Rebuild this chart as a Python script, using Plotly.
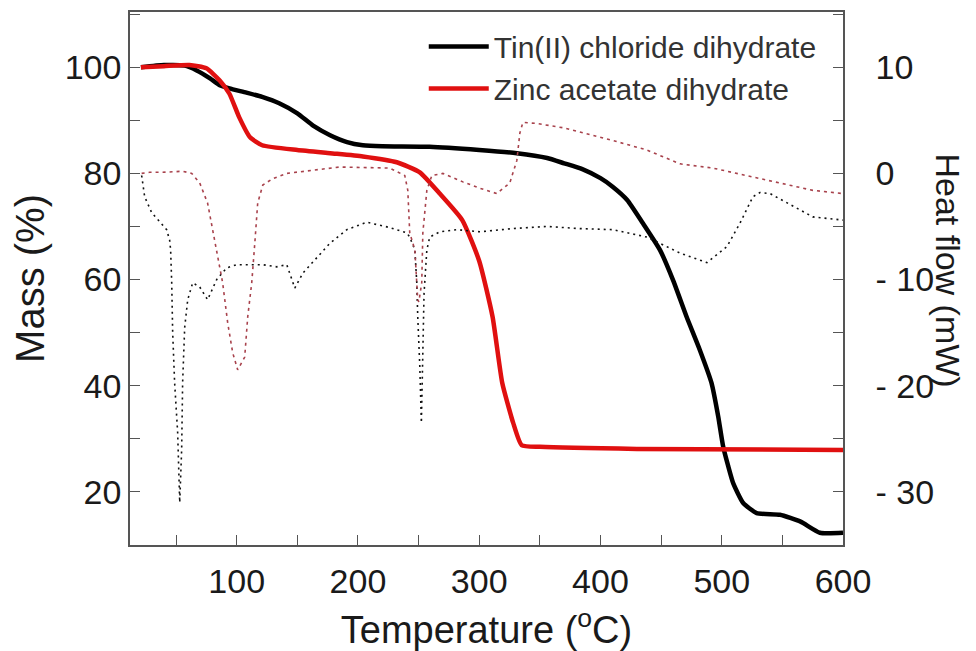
import plotly.graph_objects as go

# --- TGA: Tin(II) chloride dihydrate (mass %) ---
T_tin = [21, 40, 57, 67, 78, 86, 94, 108, 121, 135, 150, 163, 177, 191, 204, 220, 259, 300,
         331, 356, 370, 385, 400, 410, 422, 435, 449, 460, 471, 482, 491.6, 497.1, 501.2,
         505.4, 509.5, 517.7, 528.8, 548, 565, 581, 600]
M_tin = [100, 100.4, 100.3, 99.4, 97.9, 96.6, 96, 95.2, 94.4, 93.2, 91.3, 89, 87.2, 85.9, 85.3,
         85.1, 85, 84.4, 83.8, 82.9, 81.9, 80.8, 79.1, 77.5, 75, 70.6, 65.6, 59.8, 53, 46.7,
         40.5, 34.2, 28.5, 24.8, 21.6, 17.9, 16, 15.7, 14.4, 12.3, 12.3]

# --- TGA: Zinc acetate dihydrate (mass %) ---
T_zn = [21, 40, 61, 75, 86, 94, 102, 111, 121, 150, 177, 204, 232, 251, 267, 286, 300, 311,
        319, 328, 335, 350, 430, 600]
M_zn = [100, 100.2, 100.4, 99.8, 97.5, 95, 90.6, 86.8, 85.3, 84.4, 83.8, 83.2, 82.1, 80.2,
        76.3, 71.2, 63.5, 53, 40.5, 33, 28.8, 28.5, 28.1, 27.9]

# --- DSC: Tin(II) chloride dihydrate (heat flow, mW) ---
T_tin_dsc = [21.6, 24.1, 29.9, 38.1, 42.2, 44.7, 45.5, 46.4, 47.2, 48.8, 51.3, 53, 54.6, 55.4,
             57.1, 59.6, 63.7, 69.5, 76, 83.5, 91.7, 100, 121.5, 133, 141.3, 147.9, 154.5,
             176.7, 190.8, 207.3, 226.2, 240.3, 242.7, 246.9, 248.5, 249.3, 251, 252.3, 253.5,
             254.5, 256.8, 259.2, 267.5, 281.5, 300.5, 327.7, 355.8, 383, 410.2, 438.3, 465.5,
             487.8, 504.3, 515, 525.7, 531.5, 539.8, 562, 575.2, 600]
H_tin = [-0.2, -2.2, -3.7, -4.7, -5.3, -6.3, -7.2, -10.3, -15, -19.7, -24.4, -31, -26, -19.7,
         -14.5, -11.9, -10.3, -10.7, -11.9, -10, -8.9, -8.6, -8.6, -8.8, -8.6, -10.8, -9.4,
         -6.6, -5.3, -4.6, -5.1, -5.6, -6, -7.2, -10.3, -13.5, -18.2, -23.5, -16, -11.3,
         -7.2, -6, -5.5, -5.3, -5.5, -5.2, -5, -5.2, -5.3, -6, -7.5, -8.4, -6.9, -4.7, -2.2,
         -1.8, -1.9, -3.3, -4.1, -4.4]

# --- DSC: Zinc acetate dihydrate (heat flow, mW) ---
T_zn_dsc = [21.6, 28.2, 38.9, 55.4, 62.9, 69.5, 76, 80.2, 84.3, 88.4, 92.6, 96.7, 100.8, 106.6,
            109.1, 112.4, 114.9, 117.3, 121.5, 129.7, 141.3, 157.8, 185, 226.2, 238.6, 241.1,
            242.7, 246.9, 249.3, 250.2, 252.6, 253.5, 256.8, 260.9, 270, 286.5, 300.5, 314.5,
            325.2, 331, 333.5, 336, 347.5, 369, 383, 410.2, 438.3, 465.5, 492.7, 520.8, 548,
            575.2, 600]
H_zn = [0, 0.1, 0.1, 0.2, 0, -0.9, -2.8, -5.3, -7.5, -10.3, -14.1, -16.9, -18.5, -17.3, -13.5,
        -10.3, -6.6, -2.8, -1.1, -0.5, 0, 0.2, 0.6, 0.5, -0.2, -1.6, -5.6, -7.2, -11.9, -12.1,
        -10.3, -5.6, -1.6, -0.2, 0, -0.8, -1.4, -1.9, -0.9, 1.2, 3.8, 4.8, 4.7, 4.3, 3.9, 3.1,
        2.2, 0.9, 0.5, -0.2, -0.9, -1.6, -1.9]

x_ticks = [100, 200, 300, 400, 500, 600]
mass_ticks = [20, 40, 60, 80, 100]
heat_ticks = [-30, -20, -10, 0, 10]
heat_labels = ["- 30", "- 20", "- 10", "0", "10"]

FONT = "Liberation Sans, Arial, sans-serif"
TXT = "#1a1a1a"
AX = "#555555"

fig = go.Figure()
fig.add_trace(go.Scatter(x=T_tin_dsc, y=H_tin, yaxis="y2", mode="lines", showlegend=False,
                         line=dict(color="#111111", width=1.6, dash="2px,4px")))
fig.add_trace(go.Scatter(x=T_zn_dsc, y=H_zn, yaxis="y2", mode="lines", showlegend=False,
                         line=dict(color="#a8424c", width=1.6, dash="3px,4px")))
fig.add_trace(go.Scatter(x=T_tin, y=M_tin, mode="lines", name="Tin(II) chloride dihydrate",
                         line=dict(color="#000000", width=4.5, shape="spline", smoothing=0.5)))
fig.add_trace(go.Scatter(x=T_zn, y=M_zn, mode="lines", name="Zinc acetate dihydrate",
                         line=dict(color="#e01010", width=4.5, shape="spline", smoothing=0.5)))

tick_common = dict(ticks="inside", ticklen=10, tickwidth=1.2, tickcolor=AX,
                   showline=True, linecolor=AX, linewidth=1.5, showgrid=False,
                   zeroline=False, automargin=False, tickfont=dict(size=34))

# page body has an 8px margin, so the figure is drawn 8px smaller and offset
fig.update_layout(
    width=968, height=643,
    margin=dict(l=122, r=133, t=4, b=106),
    paper_bgcolor="white", plot_bgcolor="white",
    font=dict(family=FONT, color=TXT, size=30),
    showlegend=True,
    legend=dict(x=0.412, y=0.984, xanchor="left", yanchor="top", bgcolor="rgba(0,0,0,0)",
                font=dict(size=30, color="#333333"), tracegroupgap=0, itemwidth=60),
    xaxis=dict(range=[12, 600], tickvals=x_ticks, ticktext=[str(v) for v in x_ticks],
               ticklabelstandoff=5,
               minor=dict(dtick=50, tick0=0, ticks="inside", ticklen=10, tickcolor=AX, tickwidth=1.2),
               mirror=True,
               title=dict(text="Temperature (<sup>o</sup>C)", font=dict(size=38), standoff=20),
               **tick_common),
    yaxis=dict(range=[10, 110.4], tickvals=mass_ticks,
               minor=dict(dtick=10, tick0=0, ticks="inside", ticklen=10, tickcolor=AX, tickwidth=1.2),
               title=dict(text="Mass (%)", font=dict(size=40), standoff=16),
               **tick_common),
    yaxis2=dict(range=[-35, 15.2], overlaying="y", side="right", tickvals=heat_ticks,
                ticktext=heat_labels, ticklabelstandoff=24,
                minor=dict(dtick=5, tick0=0, ticks="inside", ticklen=10, tickcolor=AX, tickwidth=1.2),
                **tick_common),
    annotations=[dict(text="Heat flow (mW)", xref="paper", yref="paper", x=1.148, y=0.516,
                      xanchor="center", yanchor="middle", textangle=90, showarrow=False,
                      font=dict(size=34, color=TXT))],
)

fig.write_html("out.html")
